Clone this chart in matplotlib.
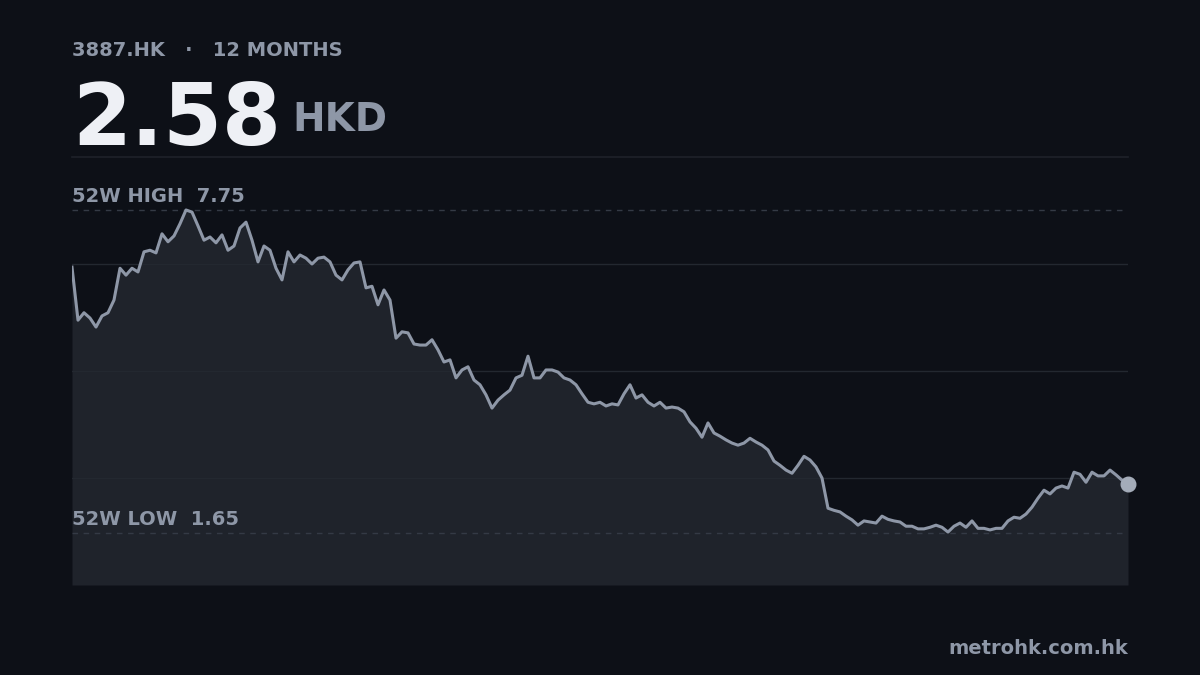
import matplotlib
matplotlib.use("Agg")
import matplotlib.pyplot as plt
import numpy as np

ticker = "3887.HK"
period = "12 MONTHS"
last_price = 2.58
currency = "HKD"
high_52w = 7.75
low_52w = 1.65
site = "metrohk.com.hk"

prices = [6.67,5.67,5.81,5.71,5.54,5.75,5.81,6.05,6.65,6.52,6.65,6.58,6.96,6.99,6.94,7.30,7.15,7.26,7.49,7.75,
7.71,7.45,7.18,7.24,7.13,7.28,6.99,7.07,7.41,7.52,7.18,6.77,7.07,6.99,6.65,6.43,6.96,6.77,6.90,6.84,
6.73,6.84,6.86,6.77,6.52,6.43,6.62,6.75,6.77,6.28,6.31,5.96,6.24,6.05,5.33,5.45,5.43,5.22,5.20,5.20,
5.30,5.11,4.88,4.92,4.58,4.73,4.79,4.54,4.45,4.26,4.01,4.16,4.26,4.35,4.58,4.63,4.99,4.58,4.58,4.73,
4.73,4.69,4.58,4.54,4.45,4.28,4.12,4.09,4.12,4.05,4.09,4.07,4.28,4.45,4.20,4.26,4.12,4.05,4.12,4.01,
4.03,4.01,3.94,3.75,3.63,3.46,3.73,3.54,3.48,3.41,3.35,3.31,3.35,3.44,3.37,3.31,3.22,3.01,2.93,2.84,
2.78,2.93,3.10,3.03,2.90,2.69,2.12,2.08,2.05,1.97,1.90,1.80,1.88,1.86,1.84,1.97,1.91,1.88,1.86,1.78,
1.78,1.73,1.73,1.76,1.80,1.76,1.67,1.78,1.84,1.76,1.88,1.74,1.74,1.71,1.74,1.74,1.88,1.95,1.93,2.01,
2.14,2.31,2.46,2.39,2.50,2.54,2.50,2.80,2.76,2.61,2.80,2.73,2.73,2.84,2.75,2.65,2.58]

BG = "#0d1017"
LINE = "#8e97a7"
TXT = "#8e97a7"

fig = plt.figure(figsize=(12, 6.75), dpi=100, facecolor=BG)
ax = fig.add_axes([0.06, 0.1333, 0.88, 0.6341])
ax.set_facecolor(BG)
x = np.arange(len(prices))
ymin, ymax = 0.67, 8.75
ax.set_xlim(0, len(prices) - 1)
ax.set_ylim(ymin, ymax)
ax.fill_between(x, prices, ymin, color="#1f232b", lw=0, zorder=1)
ax.plot(x, prices, color=LINE, lw=2.2, zorder=3, solid_joinstyle="round")
ax.scatter([x[-1]], [prices[-1]], s=110, color="#a4acb9", zorder=4, clip_on=False)
for f in (0.25, 0.5, 0.75):
    ax.axhline(ymin + f * (ymax - ymin), color="#232830", lw=1, zorder=2)
ax.axhline(ymax, color="#1e222a", lw=1.2, zorder=2, clip_on=False)
for v in (high_52w, low_52w):
    ax.axhline(v, color="#343a45", lw=1, ls=(0, (4, 4)), zorder=2)
for s in ax.spines.values():
    s.set_visible(False)
ax.set_xticks([]); ax.set_yticks([])

ax.annotate(f"52W HIGH  {high_52w:.2f}", (0, high_52w), xytext=(0, 3), textcoords="offset points",
            color=TXT, fontsize=14, fontweight="bold", va="bottom", ha="left")
ax.annotate(f"52W LOW  {low_52w:.2f}", (0, low_52w), xytext=(0, 3), textcoords="offset points",
            color=TXT, fontsize=14, fontweight="bold", va="bottom", ha="left")

fig.text(0.06, 1 - 51 / 675, f"{ticker}   ·   {period}", color=TXT, fontsize=14, fontweight="bold", va="center")
fig.text(0.06, 1 - 145 / 675, f"{last_price:.2f}", color="#eef0f5", fontsize=61, fontweight="bold", va="baseline")
fig.text(292 / 1200, 1 - 131 / 675, currency, color=TXT, fontsize=28, fontweight="bold", va="baseline")
fig.text(0.94, 1 - 648 / 675, site, color=TXT, fontsize=14, fontweight="bold", ha="right", va="center")

fig.savefig("out.png", dpi=100, facecolor=BG)
